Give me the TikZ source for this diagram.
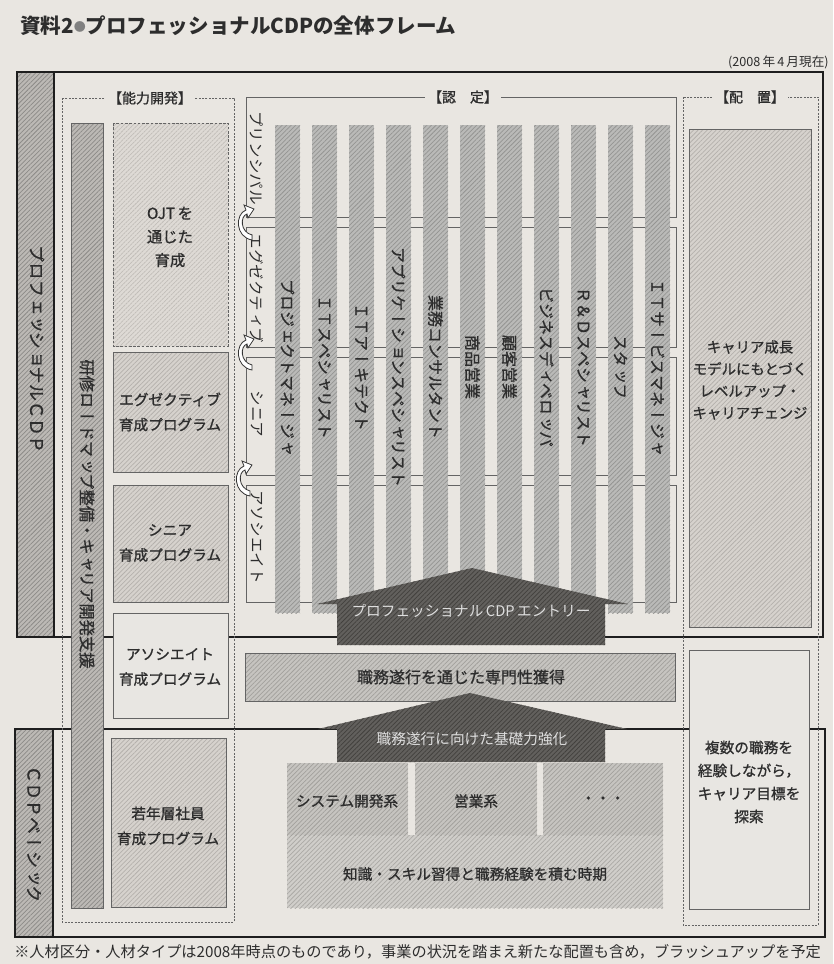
\documentclass[tikz,border=0pt]{standalone}
\usepackage{fontspec}
\usetikzlibrary{patterns.meta}
\newfontfamily\jp{Noto Sans CJK JP}
\newfontfamily\jpm{Noto Sans CJK JP}[FakeBold=1]
\newfontfamily\jpv{Noto Sans CJK JP}[Vertical=RotatedGlyphs]
\newfontfamily\jpvm{Noto Sans CJK JP}[Vertical=RotatedGlyphs,FakeBold=1]
\definecolor{paper}{RGB}{233,230,225}
\definecolor{ink}{RGB}{45,45,45}
\definecolor{frameC}{RGB}{30,30,30}
\definecolor{lineC}{RGB}{100,100,100}
\definecolor{colF}{RGB}{188,185,181}
\definecolor{colL}{RGB}{140,138,135}
\definecolor{barF}{RGB}{186,186,184}
\definecolor{barL}{RGB}{148,148,146}
\definecolor{boxF}{RGB}{214,210,205}
\definecolor{boxL}{RGB}{180,176,172}
\definecolor{ojtF}{RGB}{222,218,213}
\definecolor{asoF}{RGB}{232,230,226}
\definecolor{darkF}{RGB}{98,96,93}
\definecolor{darkL}{RGB}{66,64,61}
\definecolor{midF}{RGB}{198,196,192}
\definecolor{midL}{RGB}{162,160,156}
\definecolor{lowF}{RGB}{208,206,202}
\definecolor{txtL}{RGB}{222,222,222}
\tikzset{
  hatch/.style n args={2}{preaction={fill=#1}, pattern={Lines[angle=45,distance=2.4pt,line width=0.55pt]}, pattern color=#2},
  frameline/.style={draw=frameC, line width=1.4pt},
  thinbox/.style={draw=lineC, line width=0.5pt},
  dashbox/.style={draw=lineC, line width=0.5pt, dash pattern=on 1.6pt off 0.9pt},
  vlab/.style={rotate=-90, inner sep=0pt, text=ink},
  hlab/.style={inner sep=0pt, text=ink, align=center},
  seclab/.style={fill=paper, inner xsep=2pt, inner ysep=1pt, text=ink, font=\jpm\fontsize{10.5}{11}\selectfont},
  boxtxt/.style={hlab, font=\jpm\fontsize{11}{18.75}\selectfont},
  bartxt/.style={vlab, font=\jpvm\fontsize{12}{12}\selectfont},
  lvltxt/.style={vlab, font=\jpv\fontsize{11.7}{12}\selectfont},
  curl/.pic={
    \draw[black!80, line width=0.6pt, fill=white]
      (8,18) .. controls (-9,15) and (-9,-8) .. (2,-12) -- (0,-17) -- (10,-13) -- (4,-4) -- (3,-8)
      .. controls (-4,-6) and (-4,10) .. (8,13) -- cycle;
  }
}
\begin{document}
\begin{tikzpicture}[x=0.75pt,y=-0.75pt]
\fill[paper] (0,0) rectangle (833,964);
\useasboundingbox (0,0) rectangle (833,964);

% title and date
\node[anchor=west, inner sep=0pt, text=ink, font=\jp\bfseries\fontsize{15.4}{16}\selectfont] (title) at (20,26)
  {資料2{\color{gray}\raisebox{0.1em}{\fontsize{9}{9}\selectfont ●}}プロフェッショナルCDPの全体フレーム};
\node[anchor=east, inner sep=0pt, text=ink, font=\jp\fontsize{9.5}{10}\selectfont] (date) at (829,62) {(2008\,年\,4\,月現在)};

% frames
\draw[frameline] (17,72) -- (823,72) -- (823,637) -- (17,637);
\draw[frameline] (15,729) -- (825,729) -- (825,937) -- (15,937);

% side columns
\path[hatch={colF}{colL}, draw=frameC, line width=0.8pt] (17,72) rectangle (54,637);
\path[hatch={colF}{colL}, draw=frameC, line width=0.8pt] (15,729) rectangle (53,937);
\node[vlab, font=\jpvm\fontsize{13}{13}\selectfont] (pcdp) at (37,349) {プロフェッショナルＣＤＰ};
\node[vlab, font=\jpvm\fontsize{12.8}{13}\selectfont] (bcdp) at (34,834) {ＣＤＰベーシック};

% section boxes
\draw[dashbox] (62,98) rectangle (234,922);
\draw[dashbox] (683,97) rectangle (818,925);

% level boxes
\draw[thinbox] (246,97) rectangle (676,217);
\draw[thinbox] (246,227) rectangle (676,347);
\draw[thinbox] (246,357) rectangle (676,475);
\draw[thinbox] (246,485) rectangle (676,602);

\node[seclab] (labA) at (150,98) {【能力開発】};
\node[seclab] (labB) at (463,97) {【認\hspace{1em}定】};
\node[seclab] (labC) at (750,97) {【配\hspace{1em}置】};

% bars
\foreach \i in {0,...,10}{
  \path[hatch={barF}{barL}] ({275+37*\i},125) rectangle ({300+37*\i},613);
}
\foreach \t [count=\i from 0] in {プロジェクトマネージャ,ＩＴスペシャリスト,ＩＴアーキテクト,アプリケーションスペシャリスト,業務コンサルタント,商品営業,顧客営業,ビジネスディベロッパ,Ｒ＆Ｄスペシャリスト,スタッフ,ＩＴサービスマネージャ}{
  \node[bartxt] (bar\i) at ({287.5+37*\i},367) {\t};
}

% level labels
\node[lvltxt] (lvP) at (257,158) {プリンシパル};
\node[lvltxt] (lvE) at (257,288) {エグゼクティブ};
\node[lvltxt] (lvS) at (257,414) {シニア};
\node[lvltxt] (lvA) at (257,537) {アソシエイト};
\pic at (244,222) {curl};
\pic at (244,352) {curl};
\pic at (242,478) {curl};

% left column boxes
\path[hatch={colF}{colL}, draw=lineC, line width=0.5pt] (71,123) rectangle (103,908);
\node[vlab, font=\jpvm\fontsize{12.2}{13}\selectfont] (kenshu) at (87,514) {研修ロードマップ整備・キャリア開発支援};

\path[hatch={ojtF}{boxL!70!ojtF}, draw=lineC, line width=0.5pt, dash pattern=on 2pt off 1.2pt] (113,123) rectangle (228,346);
\node[hlab, font=\jpm\fontsize{11.5}{17.6}\selectfont] (ojt) at (170,237) {OJT\,を\\通じた\\育成};

\path[hatch={boxF}{boxL}, draw=lineC, line width=0.5pt] (113,352) rectangle (228,472);
\node[boxtxt] (pexec) at (170,412) {エグゼクティブ\\育成プログラム};
\path[hatch={boxF}{boxL}, draw=lineC, line width=0.5pt] (113,485) rectangle (228,602);
\node[boxtxt] (psen) at (170,543) {シニア\\育成プログラム};
\path[fill=asoF, draw=lineC, line width=0.5pt] (113,613) rectangle (228,718);
\node[boxtxt] (paso) at (170,667) {アソシエイト\\育成プログラム};
\path[hatch={boxF}{boxL}, draw=lineC, line width=0.5pt] (111,738) rectangle (226,907);
\node[boxtxt] (pyoung) at (168,826) {若年層社員\\育成プログラム};

% entry arrow
\path[hatch={darkF}{darkL}] (337,645) -- (337,604) -- (317,604) -- (472,568) -- (628,604) -- (605,604) -- (605,645) -- cycle;
\node[hlab, text=txtL, font=\jp\fontsize{11}{12}\selectfont] (entry) at (471,611) {プロフェッショナル\,CDP\,エントリー};

% expertise box
\path[hatch={midF}{midL}, draw=lineC, line width=0.5pt] (245,653) rectangle (675,701);
\node[hlab, font=\jpm\fontsize{12}{13}\selectfont] (senmon) at (461,677) {職務遂行を通じた専門性獲得};

% base arrow
\path[hatch={darkF}{darkL}] (337,762) -- (337,729) -- (318,729) -- (470,693) -- (627,729) -- (605,729) -- (605,762) -- cycle;
\node[hlab, text=txtL, font=\jp\fontsize{11}{12}\selectfont] (kiso) at (472,739) {職務遂行に向けた基礎力強化};

% base blocks
\path[hatch={lowF}{midL!80!lowF}] (287,835) rectangle (663,908);
\path[hatch={midF}{midL}] (287,763) rectangle (408,835);
\path[hatch={midF}{midL}] (415,763) rectangle (537,835);
\path[hatch={midF}{midL}] (543,763) rectangle (663,835);
\node[boxtxt] (sys) at (347,801) {システム開発系};
\node[boxtxt] (eigyo) at (476,801) {営業系};
\node[boxtxt] (dots) at (603,800) {・・・};
\node[boxtxt] (chishiki) at (475,874) {知識・スキル習得と職務経験を積む時期};

% placement boxes
\path[hatch={boxF}{boxL}, draw=lineC, line width=0.6pt] (689,129) rectangle (811,627);
\node[hlab, font=\jpm\fontsize{10.8}{16.5}\selectfont] (career) at (750,380) {キャリア成長\\モデルにもとづく\\レベルアップ・\\キャリアチェンジ};
\path[fill=asoF, draw=lineC, line width=0.6pt] (689,650) rectangle (809,909);
\node[hlab, font=\jpm\fontsize{11}{17.25}\selectfont] (fukusu) at (749,782) {複数の職務を\\経験しながら，\\キャリア目標を\\探索};

% footnote
\node[anchor=west, inner sep=0pt, text=ink, font=\jp\fontsize{11.4}{12}\selectfont] (note) at (14,952)
  {※人材区分・人材タイプは2008年時点のものであり，事業の状況を踏まえ新たな配置も含め，ブラッシュアップを予定};
\end{tikzpicture}
\end{document}
